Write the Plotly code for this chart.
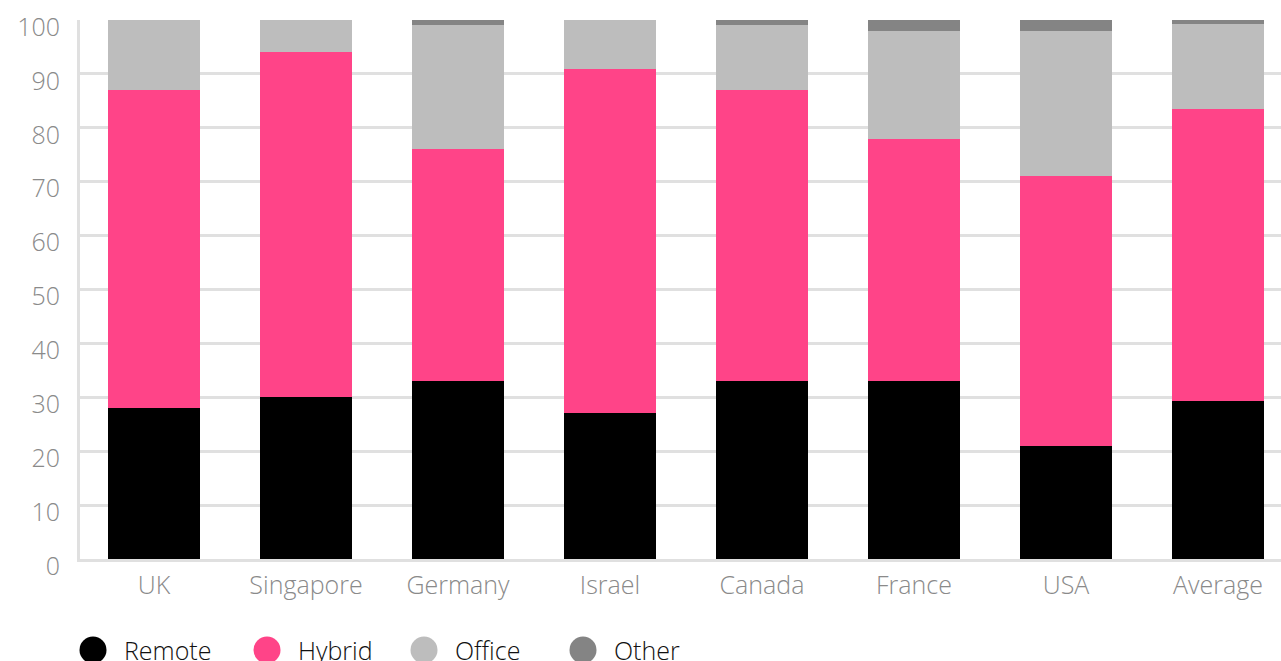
import plotly.graph_objects as go

categories = ["UK", "Singapore", "Germany", "Israel", "Canada", "France", "USA", "Average"]
remote = [28, 30, 33, 27, 33, 33, 21, 29.3]
hybrid = [59, 64, 43, 64, 54, 45, 50, 54.1]
office = [13, 6, 23, 9, 12, 20, 27, 15.8]
other = [0, 0, 1, 0, 1, 2, 2, 0.8]
series_names = ["Remote", "Hybrid", "Office", "Other"]
series_colors = ["#000000", "#ff4488", "#bdbdbd", "#848484"]
y_ticks = [0, 10, 20, 30, 40, 50, 60, 70, 80, 90, 100]

W, H = 1281, 661
ML, MR, MT, MB = 80, 0, 20, 102
PW = W - ML - MR
PH = H - MT - MB
FONT = "Open Sans"

fig = go.Figure()
for name, vals, col in zip(series_names, [remote, hybrid, office, other], series_colors):
    fig.add_trace(go.Bar(x=categories, y=vals, name=name, marker=dict(color=col, line=dict(width=0)),
                         showlegend=False))

# manual legend with large circles
legend_px = [93, 267, 424, 583]
legend_py = 650
for name, col, px in zip(series_names, series_colors, legend_px):
    xp = (px - ML) / PW
    yp = (MT + PH - legend_py) / PH
    fig.add_shape(type="circle", xref="paper", yref="paper", xsizemode="pixel", ysizemode="pixel",
                  xanchor=xp, yanchor=yp, x0=-13.5, x1=13.5, y0=-13.5, y1=13.5,
                  fillcolor=col, line=dict(width=0))
    fig.add_annotation(xref="paper", yref="paper", x=(px + 29 - ML) / PW, y=yp,
                       xanchor="left", yanchor="middle", text=name, showarrow=False,
                       font=dict(family=FONT, size=25, color="#111111", weight=300))

# x range so that category spacing matches reference
step = 152.0
first_center = 154.0
x0 = (ML - first_center) / step
x1 = (W - MR - first_center) / step

tickfont = dict(family=FONT, size=25, color="#8a8a8a", weight=300)

fig.update_layout(
    width=W, height=H,
    margin=dict(l=ML, r=MR, t=MT, b=MB),
    barmode="stack",
    bargap=1 - 92 / 152,
    plot_bgcolor="white", paper_bgcolor="white",
    font=dict(family=FONT, size=25, color="#8a8a8a"),
    xaxis=dict(range=[x0, x1], showgrid=False, zeroline=False, showline=True,
               linecolor="#e0e0e0", linewidth=3, ticks="outside", ticklen=2, tickcolor="rgba(0,0,0,0)",
               tickfont=tickfont),
    yaxis=dict(range=[0, 100], tickvals=y_ticks, showgrid=True, gridcolor="#e0e0e0", gridwidth=3,
               zeroline=False, showline=True, linecolor="#e0e0e0", linewidth=3,
               ticks="outside", ticklen=12, tickcolor="rgba(0,0,0,0)",
               ticklabelshift=7, tickfont=tickfont),
)

fig.write_html("out.html")
